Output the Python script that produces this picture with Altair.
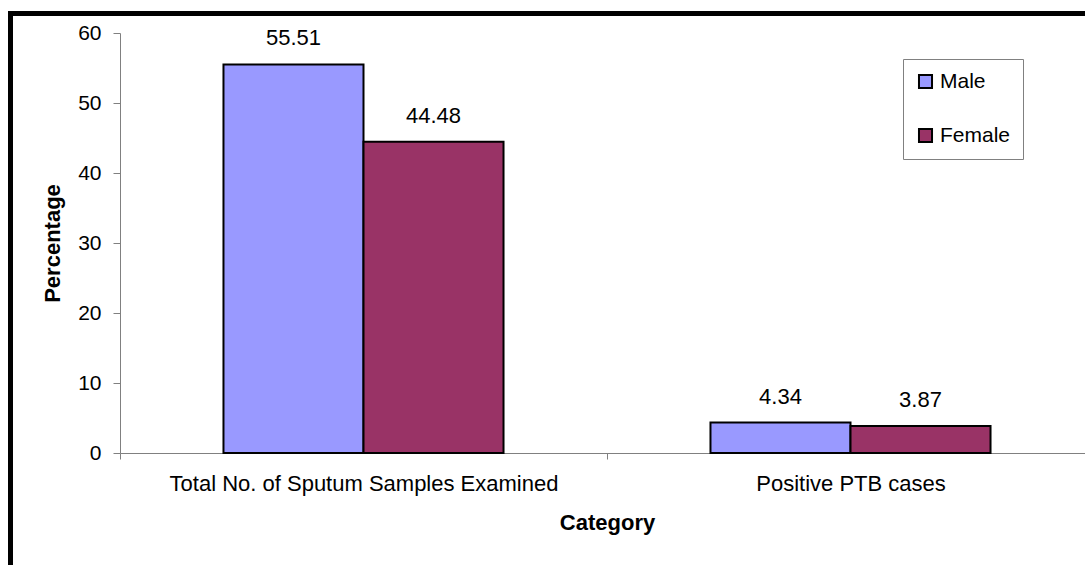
import altair as alt
import pandas as pd

categories = ["Total No. of Sputum Samples Examined", "Positive PTB cases"]
male = [55.51, 4.34]
female = [44.48, 3.87]
series = ["Male", "Female"]
colors = ["#9999FF", "#993366"]

rows = []
for c, m, f in zip(categories, male, female):
    rows.append({"Category": c, "Sex": "Male", "Value": m, "Label": f"{m:.2f}"})
    rows.append({"Category": c, "Sex": "Female", "Value": f, "Label": f"{f:.2f}"})
df = pd.DataFrame(rows)

FONT = "Liberation Sans"
PW, PH = 965, 420

x = alt.X("Category:N", sort=categories,
          scale=alt.Scale(range=[0, 974], paddingInner=0, paddingOuter=0),
          axis=alt.Axis(title="Category", labelAngle=0, tickBand="extent",
                        labelFontSize=22, labelColor="black", labelFont=FONT,
                        titleFontSize=22, titleFontWeight="bold", titleFont=FONT,
                        titleColor="black", titlePadding=18, labelPadding=14,
                        domainColor="#808080", tickColor="#808080", tickSize=6,
                        labelLimit=700))
xo = alt.XOffset("Sex:N", sort=series,
                 scale=alt.Scale(paddingOuter=0.739, paddingInner=0))
y = alt.Y("Value:Q", scale=alt.Scale(domain=[0, 60]),
          axis=alt.Axis(title="Percentage", values=[0, 10, 20, 30, 40, 50, 60],
                        grid=False, labelFontSize=21, labelColor="black", labelFont=FONT,
                        titleFontSize=22, titleFontWeight="bold", titleFont=FONT,
                        titleColor="black", titlePadding=13, labelPadding=12,
                        domainColor="#808080", tickColor="#808080", tickSize=7))

bars = alt.Chart(df).mark_bar(stroke="black", strokeWidth=2).encode(
    x=x, xOffset=xo, y=y,
    color=alt.Color("Sex:N", sort=series,
                    scale=alt.Scale(domain=series, range=colors),
                    legend=alt.Legend(title=None, orient="none", legendX=783, legendY=26,
                                      direction="vertical",
                                      strokeColor="#808080", fillColor="white",
                                      padding=12, rowPadding=31,
                                      symbolType="square", symbolSize=170,
                                      symbolStrokeColor="black", symbolStrokeWidth=2,
                                      labelFontSize=21, labelFont=FONT, labelColor="black",
                                      labelOffset=4, offset=0)),
)

labels = alt.Chart(df).mark_text(fontSize=22, font=FONT, color="black",
                                 baseline="alphabetic", dy=-19).encode(
    x=x, xOffset=xo, y=y, text="Label:N")

border_left = alt.Chart(pd.DataFrame({"a": [0]})).mark_rule(
    color="black", strokeWidth=5, clip=False).encode(
    x=alt.value(-109.5), y=alt.value(-22), y2=alt.value(PH + 120))
border_top = alt.Chart(pd.DataFrame({"a": [0]})).mark_rule(
    color="black", strokeWidth=5, clip=False).encode(
    x=alt.value(-112), x2=alt.value(PW + 10), y=alt.value(-19.5))

chart = alt.layer(bars, labels, border_left, border_top).properties(
    width=PW, height=PH,
    autosize=alt.AutoSizeParams(type="none"),
    padding={"left": 120, "top": 33, "right": 0, "bottom": 112},
    background="white",
).configure_view(stroke=None)

chart.save("out.html", embed_options={"renderer": "svg", "actions": False})
